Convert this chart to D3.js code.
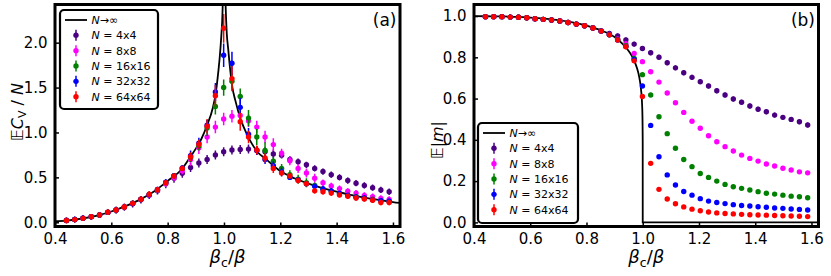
<!DOCTYPE html>
<html><head><meta charset="utf-8">
<script src="https://cdn.jsdelivr.net/npm/d3@7"></script>
<style>body{margin:0;background:#fff}svg{display:block}text{font-family:"DejaVu Sans",sans-serif}</style>
</head><body><svg id="c" width="831" height="276"></svg>
<script>
// ---------- data ----------
const xVals = [0.4407,0.4701,0.4994,0.5288,0.5582,0.5876,0.6170,0.6463,0.6757,0.7051,0.7345,0.7639,0.7932,0.8226,0.8520,0.8814,0.9108,0.9401,0.9695,0.9989,1.0283,1.0577,1.0871,1.1164,1.1458,1.1752,1.2046,1.2340,1.2633,1.2927,1.3221,1.3515,1.3809,1.4102,1.4396,1.4690,1.4984,1.5278,1.5571,1.5865];
const seriesNames = ["4x4","8x8","16x16","32x32","64x64"];
const seriesColors = ["#4b0082","#ff00ff","#008000","#0000ff","#ff0000"];

const cv4  = [0.020,0.030,0.044,0.062,0.080,0.110,0.136,0.168,0.205,0.250,0.300,0.350,0.430,0.490,0.545,0.610,0.660,0.700,0.750,0.785,0.805,0.810,0.815,0.800,0.785,0.760,0.745,0.700,0.675,0.640,0.600,0.565,0.530,0.500,0.465,0.435,0.410,0.385,0.360,0.340];
const cv8  = [0.021,0.031,0.045,0.063,0.082,0.111,0.138,0.171,0.210,0.255,0.305,0.355,0.430,0.500,0.575,0.700,0.830,0.950,1.060,1.150,1.180,1.190,1.130,1.060,0.950,0.865,0.770,0.685,0.600,0.550,0.490,0.440,0.405,0.375,0.345,0.325,0.300,0.285,0.265,0.255];
const cv16 = [0.021,0.031,0.045,0.063,0.082,0.112,0.138,0.172,0.212,0.257,0.311,0.362,0.442,0.518,0.600,0.720,0.850,1.050,1.290,1.500,1.570,1.400,1.160,0.950,0.800,0.680,0.600,0.530,0.480,0.440,0.410,0.370,0.345,0.320,0.300,0.285,0.270,0.255,0.240,0.230];
const cv32 = [0.021,0.031,0.045,0.062,0.082,0.110,0.138,0.172,0.210,0.258,0.310,0.365,0.445,0.520,0.605,0.740,0.880,1.080,1.450,1.860,1.770,1.280,0.980,0.800,0.700,0.630,0.560,0.500,0.470,0.430,0.400,0.370,0.350,0.320,0.300,0.280,0.270,0.250,0.240,0.235];
const cv64 = [0.020,0.030,0.044,0.062,0.081,0.111,0.137,0.170,0.211,0.256,0.312,0.363,0.440,0.515,0.600,0.730,0.870,1.070,1.410,2.160,1.600,1.120,0.950,0.805,0.715,0.600,0.550,0.515,0.465,0.430,0.350,0.340,0.325,0.305,0.290,0.270,0.260,0.245,0.220,0.220];

const cvErr4  = [0.03,0.03,0.03,0.03,0.03,0.03,0.04,0.04,0.04,0.04,0.04,0.04,0.05,0.05,0.05,0.05,0.05,0.05,0.05,0.05,0.05,0.05,0.05,0.05,0.05,0.05,0.035,0.035,0.035,0.035,0.035,0.035,0.035,0.035,0.035,0.035,0.035,0.035,0.035,0.035];
const cvErr8  = [0.03,0.03,0.03,0.03,0.03,0.03,0.03,0.03,0.03,0.03,0.03,0.03,0.04,0.04,0.04,0.07,0.07,0.07,0.07,0.07,0.07,0.07,0.07,0.07,0.07,0.07,0.05,0.05,0.05,0.05,0.05,0.035,0.035,0.035,0.035,0.035,0.035,0.035,0.035,0.035];
const cvErr16 = [0.03,0.03,0.03,0.03,0.03,0.03,0.03,0.03,0.03,0.03,0.03,0.03,0.03,0.03,0.03,0.05,0.05,0.09,0.09,0.09,0.09,0.09,0.09,0.09,0.09,0.05,0.05,0.05,0.05,0.05,0.03,0.03,0.03,0.03,0.03,0.03,0.03,0.03,0.03,0.03];
const cvErr32 = [0.03,0.03,0.03,0.03,0.03,0.03,0.03,0.03,0.03,0.03,0.03,0.03,0.03,0.03,0.03,0.06,0.06,0.06,0.10,0.13,0.13,0.10,0.07,0.05,0.05,0.05,0.05,0.03,0.03,0.03,0.03,0.03,0.03,0.03,0.03,0.03,0.03,0.03,0.03,0.03];
const cvErr64 = [0.03,0.03,0.03,0.03,0.03,0.03,0.03,0.03,0.03,0.03,0.03,0.03,0.03,0.03,0.03,0.05,0.05,0.08,0.12,0.16,0.14,0.10,0.07,0.05,0.05,0.05,0.03,0.03,0.03,0.03,0.03,0.03,0.03,0.03,0.03,0.03,0.03,0.03,0.03,0.03];

const m4  = [0.997,0.997,0.997,0.995,0.994,0.992,0.987,0.984,0.981,0.976,0.969,0.961,0.953,0.943,0.929,0.916,0.904,0.884,0.864,0.843,0.822,0.800,0.774,0.749,0.725,0.703,0.682,0.661,0.638,0.617,0.598,0.582,0.564,0.548,0.536,0.520,0.509,0.499,0.488,0.472];
const m8  = [0.997,0.997,0.997,0.995,0.994,0.992,0.987,0.984,0.981,0.976,0.969,0.961,0.953,0.942,0.927,0.911,0.889,0.866,0.819,0.779,0.730,0.680,0.627,0.580,0.533,0.490,0.456,0.420,0.391,0.367,0.346,0.326,0.310,0.297,0.283,0.273,0.262,0.254,0.245,0.240];
const m16 = [0.997,0.997,0.997,0.995,0.994,0.992,0.987,0.984,0.981,0.976,0.969,0.961,0.953,0.942,0.927,0.909,0.886,0.856,0.795,0.716,0.617,0.512,0.430,0.359,0.305,0.270,0.237,0.218,0.200,0.184,0.173,0.165,0.157,0.149,0.141,0.137,0.132,0.127,0.124,0.119];
const m32 = [0.997,0.997,0.997,0.995,0.994,0.992,0.987,0.984,0.981,0.976,0.969,0.961,0.953,0.942,0.927,0.909,0.884,0.852,0.790,0.661,0.470,0.318,0.230,0.181,0.150,0.132,0.115,0.103,0.096,0.091,0.086,0.082,0.079,0.076,0.073,0.070,0.068,0.065,0.063,0.060];
const m64 = [0.997,0.997,0.997,0.995,0.994,0.992,0.987,0.984,0.981,0.976,0.969,0.961,0.953,0.942,0.927,0.909,0.884,0.851,0.783,0.610,0.286,0.160,0.113,0.090,0.075,0.064,0.056,0.050,0.046,0.043,0.041,0.039,0.037,0.036,0.035,0.033,0.032,0.031,0.030,0.028];
const mErr = [0.012,0.008,0.006,0.005,0.005];

const cvInfX = [0.40,0.4407,0.50,0.55,0.60,0.65,0.70,0.75,0.80,0.85,0.88,0.90,0.92,0.94,0.96,0.97,0.98,0.985,0.99,0.995,0.998,1.0,1.002,1.005,1.01,1.015,1.02,1.03,1.04,1.06,1.08,1.10,1.12,1.15,1.20,1.25,1.30,1.35,1.40,1.45,1.50,1.55,1.60,1.625];
const cvInfY = [0.012,0.019,0.044,0.075,0.12,0.18,0.25,0.34,0.46,0.59,0.725,0.82,0.93,1.08,1.27,1.42,1.68,1.84,2.05,2.36,2.80,4.0,2.90,2.50,2.10,1.93,1.76,1.50,1.36,1.14,0.99,0.87,0.78,0.70,0.57,0.49,0.43,0.38,0.34,0.305,0.275,0.25,0.225,0.215];
const mInfX = [0.40,0.45,0.50,0.55,0.60,0.65,0.70,0.75,0.80,0.85,0.90,0.93,0.95,0.96,0.97,0.98,0.985,0.99,0.995,0.9975,0.999,0.9999,1.0,1.625];
const mInfY = [1.0,0.9991,0.998,0.9961,0.9928,0.9879,0.9805,0.9699,0.954,0.9316,0.898,0.8628,0.831,0.8102,0.7832,0.7461,0.7209,0.6859,0.6297,0.5776,0.515,0.387,0.0,0.0];

const xTicks = [0.4,0.6,0.8,1.0,1.2,1.4,1.6];
const cvTicks = [0.0,0.5,1.0,1.5,2.0];
const mTicks = [0.0,0.2,0.4,0.6,0.8,1.0];

// ---------- drawing ----------
const svg = d3.select("#c");
const xDomain = [0.4, 1.625];

function drawPanel(cfg){
  const x = d3.scaleLinear().domain(xDomain).range([cfg.x0, cfg.x1]);
  const y = d3.scaleLinear().domain(cfg.yDomain).range([cfg.y1, cfg.y0]);
  svg.append("clipPath").attr("id", cfg.id).append("rect")
    .attr("x", cfg.x0).attr("y", cfg.y0).attr("width", cfg.x1-cfg.x0).attr("height", cfg.y1-cfg.y0);
  const g = svg.append("g");
  const plot = g.append("g").attr("clip-path", `url(#${cfg.id})`);
  plot.append("path")
    .datum(d3.zip(cfg.infX, cfg.infY))
    .attr("d", d3.line().x(d=>x(d[0])).y(d=>y(d[1])).curve(d3.curveMonotoneX))
    .attr("fill","none").attr("stroke","#000").attr("stroke-width",1.8);
  cfg.series.forEach((vals,k)=>{
    const sg = plot.append("g");
    const pts = vals.map((v,i)=>({x:xVals[i], v, e: cfg.errs[k][i]}));
    sg.selectAll("line").data(pts).join("line")
      .attr("x1", d=>x(d.x)).attr("x2", d=>x(d.x))
      .attr("y1", d=>y(d.v-d.e)).attr("y2", d=>y(d.v+d.e))
      .attr("stroke", seriesColors[k]).attr("stroke-width",1.5);
    sg.selectAll("circle").data(pts).join("circle")
      .attr("cx", d=>x(d.x)).attr("cy", d=>y(d.v)).attr("r", 2.7)
      .attr("fill", seriesColors[k]);
  });
  // axes
  const ax = g.append("g").attr("transform",`translate(0,${cfg.y1})`)
    .call(d3.axisBottom(x).tickValues(xTicks).tickSizeInner(-4).tickSizeOuter(0).tickPadding(7).tickFormat(d3.format(".1f")));
  const ay = g.append("g").attr("transform",`translate(${cfg.x0},0)`)
    .call(d3.axisLeft(y).tickValues(cfg.yTicks).tickSizeInner(-4).tickSizeOuter(0).tickPadding(7.5).tickFormat(d3.format(".1f")));
  [ax, ay].forEach(a=>{
    a.select(".domain").remove();
    a.selectAll("line").attr("stroke","#000").attr("stroke-width",1.5);
    a.selectAll("text").attr("font-size",15).attr("font-family","DejaVu Sans").attr("fill","#000");
  });
  // frame
  g.append("rect").attr("x",cfg.x0).attr("y",cfg.y0).attr("width",cfg.x1-cfg.x0).attr("height",cfg.y1-cfg.y0)
    .attr("fill","none").attr("stroke","#000").attr("stroke-width",3);
  // panel label
  g.append("text").attr("x", cfg.x1-3.5).attr("y", 26).attr("text-anchor","end")
    .attr("font-size",17).text(cfg.label);
  // x label
  const xl = g.append("text").attr("x",(cfg.x0+cfg.x1)/2).attr("y",263).attr("text-anchor","middle").attr("font-size",18);
  xl.append("tspan").attr("font-style","italic").text("β");
  xl.append("tspan").attr("font-size",12.5).attr("dy",4).text("c");
  xl.append("tspan").attr("dy",-4).text("/");
  xl.append("tspan").attr("font-style","italic").text("β");
  // y label
  const yl = g.append("text").attr("transform",`translate(${cfg.ylx},${cfg.yly}) rotate(-90)`)
    .attr("text-anchor","middle").attr("font-size",16);
  cfg.ylabel(yl);
  // legend
  const L = cfg.legend;
  const lg = g.append("g");
  lg.append("rect").attr("x",L.x).attr("y",L.y).attr("width",L.w).attr("height",L.h)
    .attr("rx",4).attr("fill","#fff").attr("stroke","#000").attr("stroke-width",2.2);
  lg.append("line").attr("x1",L.x+5).attr("x2",L.x+27).attr("y1",L.y+10).attr("y2",L.y+10)
    .attr("stroke","#000").attr("stroke-width",1.8);
  const t0 = lg.append("text").attr("x",L.x+31.5).attr("y",L.y+14).attr("font-size",11);
  t0.append("tspan").attr("font-style","italic").text("N");
  t0.append("tspan").text("→∞");
  seriesNames.forEach((nm,k)=>{
    const yy = L.y + 25.3 + k*15.35;
    lg.append("line").attr("x1",L.x+16).attr("x2",L.x+16).attr("y1",yy-5.5).attr("y2",yy+5.5)
      .attr("stroke",seriesColors[k]).attr("stroke-width",1.5);
    lg.append("circle").attr("cx",L.x+16).attr("cy",yy).attr("r",2.7).attr("fill",seriesColors[k]);
    const t = lg.append("text").attr("x",L.x+31.5).attr("y",yy+4).attr("font-size",11);
    t.append("tspan").attr("font-style","italic").text("N");
    t.append("tspan").text(" = " + nm);
  });
}

drawPanel({
  id:"clipA", x0:55, x1:400, y0:4.5, y1:226.5, yDomain:[-0.047,2.425], yTicks:cvTicks,
  infX:cvInfX, infY:cvInfY, series:[cv4,cv8,cv16,cv32,cv64], errs:[cvErr4,cvErr8,cvErr16,cvErr32,cvErr64],
  label:"(a)", ylx:23, yly:112,
  ylabel: t=>{
    t.append("tspan").text("𝔼");
    t.append("tspan").attr("font-style","italic").text("C");
    t.append("tspan").attr("font-size",11).attr("dy",3).text("V");
    t.append("tspan").attr("dy",-3).text(" / ");
    t.append("tspan").attr("font-style","italic").text("N");
  },
  legend:{x:60, y:10, w:98, h:99}
});
drawPanel({
  id:"clipB", x0:474, x1:818.5, y0:4.5, y1:226.5, yDomain:[-0.02,1.056], yTicks:mTicks,
  infX:mInfX, infY:mInfY, series:[m4,m8,m16,m32,m64], errs:[0,1,2,3,4].map(k=>xVals.map(()=>mErr[k])),
  label:"(b)", ylx:443, yly:140,
  ylabel: t=>{
    t.append("tspan").text("𝔼|");
    t.append("tspan").attr("font-style","italic").text("m");
    t.append("tspan").text("|");
  },
  legend:{x:478, y:123, w:100, h:100}
});
</script></body></html>
